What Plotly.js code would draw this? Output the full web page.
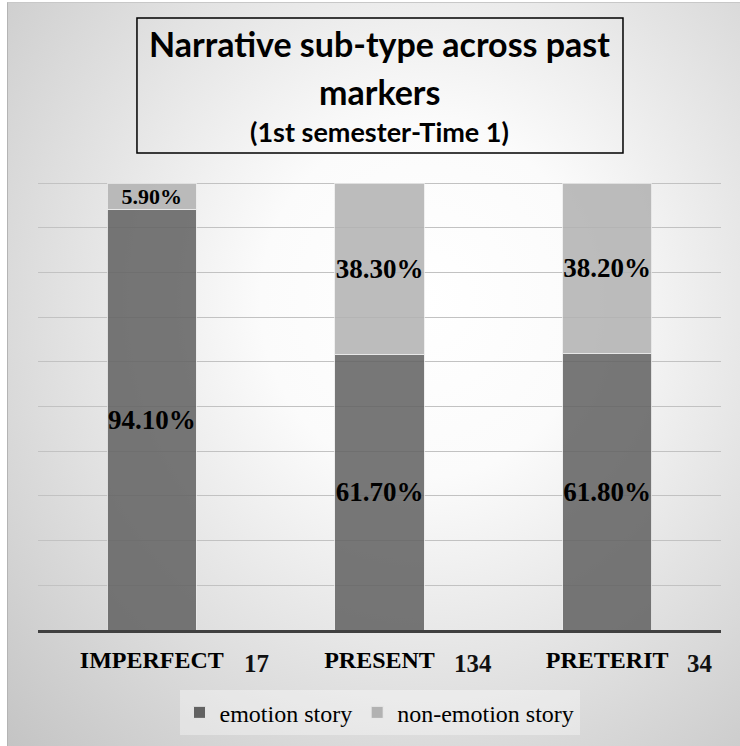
<!DOCTYPE html>
<html>
<head>
<meta charset="utf-8">
<script src="https://cdn.plot.ly/plotly-3.0.1.min.js"></script>
<style>
  html, body { margin: 0; padding: 0; background: #ffffff; }
  #frame {
    position: absolute; left: 7px; top: 2px; width: 733px; height: 744px;
    border-left: 1px solid #b4b4b4; border-top: 1px solid #c8c8c8;
    background: radial-gradient(ellipse farthest-corner at 57% 40%, #ffffff 0%, #fbfbfb 28%, #c4c4c4 100%);
  }
  #chart { position: absolute; left: 0; top: 0; width: 740px; height: 746px; }
</style>
</head>
<body>
<div id="frame"></div>
<div id="chart"></div>
<script>
const MARKERS = ['IMPERFECT', 'PRESENT', 'PRETERIT'];
const COUNTS = [17, 134, 34];
const EMOTION = [94.1, 61.7, 61.8];
const NON_EMOTION = [5.9, 38.3, 38.2];

const SERIF = 'Liberation Serif, Times New Roman, serif';
const SANS = 'Lato, Calibri, sans-serif';

function barTrace(name, values, color, sizes) {
  return {
    type: 'bar',
    name: name,
    x: MARKERS,
    y: values,
    texttemplate: '%{y:.2f}%',
    textposition: 'inside',
    insidetextanchor: 'middle',
    constraintext: 'none',
    textangle: 0,
    textfont: {family: SERIF, size: sizes, weight: 'bold', color: '#000000'},
    marker: {color: color, opacity: 0.86, line: {color: 'rgba(235,235,235,0.9)', width: 1}},
    hoverinfo: 'x+y+name',
  };
}

const traces = [
  barTrace('emotion story', EMOTION, '#626262', 27),
  barTrace('non-emotion story', NON_EMOTION, '#b2b2b2', NON_EMOTION.map(v => v < 10 ? 22 : 27)),
];

// sample sizes sit to the right of each category label
const countShift = [90, 72, 78];
const countNotes = MARKERS.map((m, i) => ({
  x: m, xref: 'x', y: -0.074, yref: 'paper',
  xanchor: 'left', yanchor: 'middle', xshift: countShift[i],
  text: String(COUNTS[i]), showarrow: false,
  font: {family: SERIF, size: 25, weight: 'bold', color: '#111111'},
}));

const titleLines = [
  {text: 'Narrative sub-type across past', y: 1.310, size: 34},
  {text: 'markers', y: 1.203, size: 34},
  {text: '(1st semester-Time 1)', y: 1.112, size: 27},
].map(l => ({
  x: 0.5, xref: 'paper', y: l.y, yref: 'paper',
  xanchor: 'center', yanchor: 'middle', showarrow: false,
  text: l.text, font: {family: SANS, size: l.size, weight: 'bold', color: '#000000'},
}));

const layout = {
  width: 740,
  height: 746,
  margin: {l: 38, r: 19, t: 182, b: 115},
  paper_bgcolor: 'rgba(0,0,0,0)',
  plot_bgcolor: 'rgba(0,0,0,0)',
  barmode: 'stack',
  bargap: 0.608,
  showlegend: true,
  legend: {
    orientation: 'h', x: 0.5, xanchor: 'center', y: -0.132, yanchor: 'top',
    bgcolor: 'rgba(255,255,255,0.35)', borderwidth: 0,
    font: {family: SERIF, size: 24, color: '#000000'},
    traceorder: 'normal',
  },
  xaxis: {
    type: 'category',
    showline: true, linecolor: '#404040', linewidth: 3,
    showgrid: false, ticks: '', ticklabelstandoff: 6,
    tickfont: {family: SERIF, size: 24, weight: 'bold', color: '#000000'},
    fixedrange: true,
  },
  yaxis: {
    range: [0, 100.25], dtick: 10,
    showticklabels: false, showline: false, zeroline: false,
    gridcolor: '#c2c2c2', gridwidth: 1,
    fixedrange: true,
  },
  shapes: [{
    type: 'rect', xref: 'paper', yref: 'paper',
    x0: 0.1449, x1: 0.8565, y0: 1.065, y1: 1.366,
    line: {color: '#000000', width: 1.5}, fillcolor: 'rgba(0,0,0,0)',
  }],
  annotations: titleLines.concat(countNotes),
};

Plotly.newPlot('chart', traces, layout, {displayModeBar: false});
</script>
</body>
</html>
